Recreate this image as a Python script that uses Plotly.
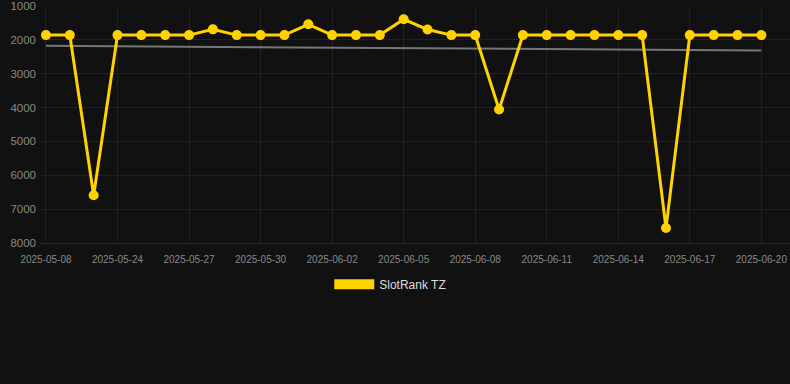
import plotly.graph_objects as go

dates = ["2025-05-08", "2025-05-22", "2025-05-23"] + [
    "2025-05-%02d" % d for d in range(24, 32)] + ["2025-06-%02d" % d for d in range(1, 21)]
ranks = [1860, 1860, 6590, 1860, 1860, 1860, 1860, 1690, 1860, 1860, 1860, 1540, 1860, 1860, 1860, 1392,
         1696, 1860, 1860, 4059, 1860, 1860, 1860, 1860, 1860, 1860, 7559, 1860, 1860, 1860, 1860]
trend_x = [dates[0], dates[-1]]
trend_y = [2176, 2315]
tick_labels = dates[0::3]
y_ticks = [1000, 2000, 3000, 4000, 5000, 6000, 7000, 8000]
series_name = "SlotRank TZ"

YELLOW = "#ffd200"
GRID = "#212121"
FONT = "Liberation Sans, Arial, sans-serif"

fig = go.Figure()
fig.add_trace(go.Scatter(x=trend_x, y=trend_y, mode="lines",
                         line=dict(color="rgba(130,130,130,0.9)", width=2),
                         showlegend=False, hoverinfo="skip"))
fig.add_trace(go.Scatter(x=dates, y=ranks, mode="lines+markers",
                         line=dict(color=YELLOW, width=3),
                         marker=dict(color=YELLOW, size=10),
                         showlegend=False, name=series_name))
fig.add_trace(go.Scatter(x=[dates[0]], y=[None], mode="lines",
                         line=dict(color=YELLOW, width=12),
                         name=series_name, showlegend=True))

fig.update_layout(
    width=790, height=384,
    margin=dict(l=40, r=0, t=6, b=141),
    paper_bgcolor="#111111", plot_bgcolor="#111111",
    font=dict(family=FONT, color="#888888"),
    legend=dict(orientation="h", xref="container", yref="container",
                x=0.494, y=0.26, xanchor="center", yanchor="middle",
                itemwidth=40, font=dict(size=12, color="#dddddd"),
                bgcolor="rgba(0,0,0,0)"),
    xaxis=dict(type="category", categoryorder="array", categoryarray=dates,
               range=[-0.25, 31.2], tickmode="array", tickvals=tick_labels,
               ticktext=tick_labels, tickfont=dict(size=10, color="#888888"),
               showgrid=True, gridcolor=GRID, gridwidth=1,
               showline=True, linecolor="#2a2a2a", zeroline=False, ticks="",
               ticklabelstandoff=7),
    yaxis=dict(range=[8000, 1000], tickmode="array", tickvals=y_ticks,
               tickfont=dict(size=11.5, color="#888888"),
               showgrid=True, gridcolor=GRID, gridwidth=1, zeroline=False,
               showline=False, ticks="", ticklabelstandoff=3),
)

fig.write_html("out.html")
